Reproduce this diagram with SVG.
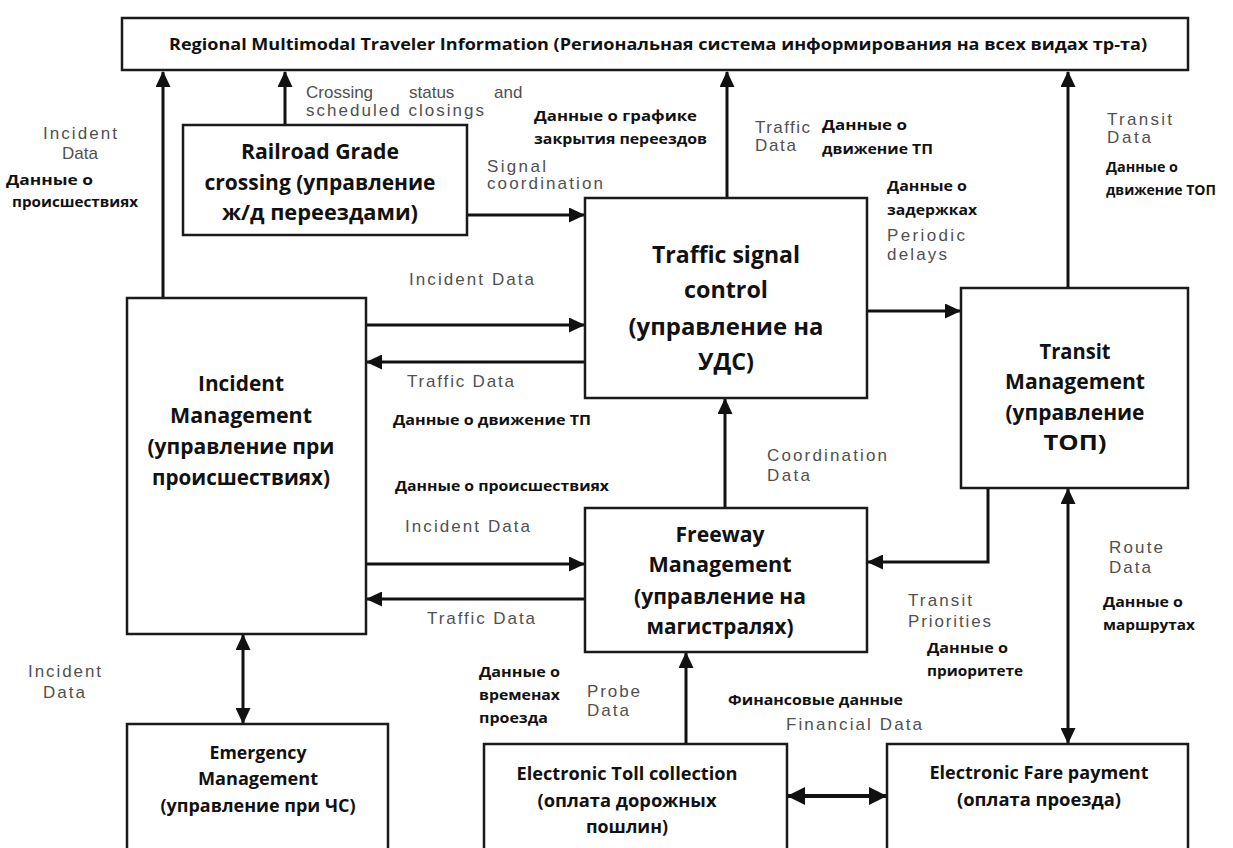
<svg xmlns="http://www.w3.org/2000/svg" width="1233" height="848" viewBox="0 0 1233 848">
<defs>
<marker id="ah" markerUnits="userSpaceOnUse" markerWidth="16" markerHeight="15" refX="15" refY="7.5" orient="auto-start-reverse"><path d="M0,0 L16,7.5 L0,15 z" fill="#111"/></marker>
<marker id="ahb" markerUnits="userSpaceOnUse" markerWidth="18" markerHeight="18" refX="17" refY="9" orient="auto-start-reverse"><path d="M0,0 L18,9 L0,18 z" fill="#111"/></marker>
<style>
.box{fill:#fff;stroke:#1a1a1a;stroke-width:2.5}
.n{font-family:"Open Sans","Noto Sans","Liberation Sans",sans-serif;font-weight:bold;fill:#111;text-anchor:middle}
.b{font-family:"Open Sans","Noto Sans","Liberation Sans",sans-serif;font-weight:bold;fill:#111;font-size:14px}
.g{font-family:"Liberation Sans",Arial,sans-serif;fill:#505050;font-size:17px}
.c{fill:none;stroke:#111;stroke-width:3}
</style>
</defs>
<rect width="1233" height="848" fill="#fff"/>

<g id="connectors">
<path class="c" d="M163,298 V72" marker-end="url(#ah)"/>
<path class="c" d="M285,125 V72" marker-end="url(#ah)"/>
<path class="c" d="M727,198 V72" marker-end="url(#ah)"/>
<path class="c" d="M1068,288 V72" marker-end="url(#ah)"/>
<path class="c" d="M467,215 H584" marker-end="url(#ah)"/>
<path class="c" d="M366,325 H584" marker-end="url(#ah)"/>
<path class="c" d="M585,362 H367" marker-end="url(#ah)"/>
<path class="c" d="M867,311 H960" marker-end="url(#ah)"/>
<path class="c" d="M366,564 H584" marker-end="url(#ah)"/>
<path class="c" d="M585,599 H367" marker-end="url(#ah)"/>
<path class="c" d="M725,508 V399" marker-end="url(#ah)"/>
<path class="c" d="M988,488 V562 H868" marker-end="url(#ah)"/>
<path class="c" d="M1068,489 V743" marker-start="url(#ah)" marker-end="url(#ah)"/>
<path class="c" d="M243,635 V723" marker-start="url(#ah)" marker-end="url(#ah)"/>
<path class="c" d="M686,744 V653" marker-end="url(#ah)"/>
<path class="c" d="M788,796 H886" style="stroke-width:4" marker-start="url(#ahb)" marker-end="url(#ahb)"/>
</g>

<g id="n-regional">
<rect class="box" x="122" y="18" width="1066" height="52"/>
<text class="n" x="658" y="50" font-size="16" textLength="978" lengthAdjust="spacingAndGlyphs">Regional Multimodal Traveler Information (Региональная система информирования на всех видах тр-та)</text>
</g>

<g id="n-railroad">
<rect class="box" x="183" y="125" width="284" height="110"/>
<text class="n" x="320" y="159" font-size="21" textLength="158" lengthAdjust="spacingAndGlyphs">Railroad Grade</text>
<text class="n" x="320" y="190" font-size="21" textLength="231" lengthAdjust="spacingAndGlyphs">crossing (управление</text>
<text class="n" x="320" y="220" font-size="21" textLength="196" lengthAdjust="spacingAndGlyphs">ж/д переездами)</text>
</g>

<g id="n-tsc">
<rect class="box" x="585" y="198" width="282" height="200"/>
<text class="n" x="726" y="263" font-size="24" textLength="148" lengthAdjust="spacingAndGlyphs">Traffic signal</text>
<text class="n" x="726" y="298" font-size="24" textLength="84" lengthAdjust="spacingAndGlyphs">control</text>
<text class="n" x="726" y="335" font-size="24" textLength="195" lengthAdjust="spacingAndGlyphs">(управление на</text>
<text class="n" x="726" y="370" font-size="24" textLength="56" lengthAdjust="spacingAndGlyphs">УДС)</text>
</g>

<g id="n-incident">
<rect class="box" x="127" y="298" width="239" height="336"/>
<text class="n" x="241" y="391" font-size="21" textLength="86" lengthAdjust="spacingAndGlyphs">Incident</text>
<text class="n" x="241" y="423" font-size="21" textLength="142" lengthAdjust="spacingAndGlyphs">Management</text>
<text class="n" x="241" y="454" font-size="21" textLength="187" lengthAdjust="spacingAndGlyphs">(управление при</text>
<text class="n" x="241" y="485" font-size="21" textLength="178" lengthAdjust="spacingAndGlyphs">происшествиях)</text>
</g>

<g id="n-transit">
<rect class="box" x="961" y="288" width="227" height="200"/>
<text class="n" x="1075" y="359" font-size="21" textLength="71" lengthAdjust="spacingAndGlyphs">Transit</text>
<text class="n" x="1075" y="389" font-size="21" textLength="140" lengthAdjust="spacingAndGlyphs">Management</text>
<text class="n" x="1075" y="420" font-size="21" textLength="139" lengthAdjust="spacingAndGlyphs">(управление</text>
<text class="n" x="1075" y="450" font-size="21" textLength="63" lengthAdjust="spacingAndGlyphs">ТОП)</text>
</g>

<g id="n-freeway">
<rect class="box" x="585" y="508" width="282" height="144"/>
<text class="n" x="720" y="542" font-size="21" textLength="89" lengthAdjust="spacingAndGlyphs">Freeway</text>
<text class="n" x="720" y="572" font-size="21" textLength="143" lengthAdjust="spacingAndGlyphs">Management</text>
<text class="n" x="720" y="604" font-size="21" textLength="172" lengthAdjust="spacingAndGlyphs">(управление на</text>
<text class="n" x="720" y="634" font-size="21" textLength="147" lengthAdjust="spacingAndGlyphs">магистралях)</text>
</g>

<g id="n-emergency">
<rect class="box" x="127" y="724" width="261" height="140"/>
<text class="n" x="258" y="759" font-size="18" textLength="97" lengthAdjust="spacingAndGlyphs">Emergency</text>
<text class="n" x="258" y="785" font-size="18" textLength="120" lengthAdjust="spacingAndGlyphs">Management</text>
<text class="n" x="258" y="812" font-size="18" textLength="195" lengthAdjust="spacingAndGlyphs">(управление при ЧС)</text>
</g>

<g id="n-toll">
<rect class="box" x="484" y="744" width="303" height="120"/>
<text class="n" x="627" y="780" font-size="18" textLength="221" lengthAdjust="spacingAndGlyphs">Electronic Toll collection</text>
<text class="n" x="627" y="807" font-size="18" textLength="179" lengthAdjust="spacingAndGlyphs">(оплата дорожных</text>
<text class="n" x="627" y="833" font-size="18" textLength="82" lengthAdjust="spacingAndGlyphs">пошлин)</text>
</g>

<g id="n-fare">
<rect class="box" x="887" y="744" width="301" height="120"/>
<text class="n" x="1039" y="779" font-size="18" textLength="219" lengthAdjust="spacingAndGlyphs">Electronic Fare payment</text>
<text class="n" x="1039" y="806" font-size="18" textLength="164" lengthAdjust="spacingAndGlyphs">(оплата проезда)</text>
</g>

<g id="labels">
<text class="g" x="43" y="139" textLength="74" lengthAdjust="spacing">Incident</text>
<text class="g" x="62" y="159" textLength="36" lengthAdjust="spacing">Data</text>
<text class="b" x="6" y="185" textLength="87" lengthAdjust="spacingAndGlyphs">Данные о</text>
<text class="b" x="12" y="207" textLength="126" lengthAdjust="spacingAndGlyphs">происшествиях</text>

<text class="g" y="98"><tspan x="306">Crossing</tspan><tspan x="409">status</tspan><tspan x="494">and</tspan></text>
<text class="g" x="306" y="116" textLength="178" lengthAdjust="spacing">scheduled closings</text>

<text class="b" x="534" y="121" textLength="163" lengthAdjust="spacingAndGlyphs">Данные о графике</text>
<text class="b" x="534" y="144" textLength="173" lengthAdjust="spacingAndGlyphs">закрытия переездов</text>

<text class="g" x="487" y="172" textLength="59" lengthAdjust="spacing">Signal</text>
<text class="g" x="487" y="189" textLength="116" lengthAdjust="spacing">coordination</text>

<text class="g" x="755" y="133" textLength="55" lengthAdjust="spacing">Traffic</text>
<text class="g" x="755" y="151" textLength="41" lengthAdjust="spacing">Data</text>
<text class="b" x="822" y="130" textLength="85" lengthAdjust="spacingAndGlyphs">Данные о</text>
<text class="b" x="822" y="154" textLength="111" lengthAdjust="spacingAndGlyphs">движение ТП</text>

<text class="g" x="1107" y="125" textLength="65" lengthAdjust="spacing">Transit</text>
<text class="g" x="1107" y="143" textLength="44" lengthAdjust="spacing">Data</text>
<text class="b" x="1106" y="172" textLength="72" lengthAdjust="spacingAndGlyphs">Данные о</text>
<text class="b" x="1106" y="195" textLength="110" lengthAdjust="spacingAndGlyphs">движение ТОП</text>

<text class="b" x="887" y="191" textLength="80" lengthAdjust="spacingAndGlyphs">Данные о</text>
<text class="b" x="887" y="215" textLength="90" lengthAdjust="spacingAndGlyphs">задержках</text>
<text class="g" x="887" y="241" textLength="78" lengthAdjust="spacing">Periodic</text>
<text class="g" x="887" y="260" textLength="60" lengthAdjust="spacing">delays</text>

<text class="g" x="409" y="285" textLength="125" lengthAdjust="spacing">Incident Data</text>
<text class="g" x="407" y="387" textLength="107" lengthAdjust="spacing">Traffic Data</text>
<text class="b" x="393" y="425" textLength="198" lengthAdjust="spacingAndGlyphs">Данные о движение ТП</text>
<text class="b" x="395" y="491" textLength="214" lengthAdjust="spacingAndGlyphs">Данные о происшествиях</text>
<text class="g" x="405" y="532" textLength="125" lengthAdjust="spacing">Incident Data</text>
<text class="g" x="427" y="624" textLength="108" lengthAdjust="spacing">Traffic Data</text>

<text class="g" x="767" y="461" textLength="120" lengthAdjust="spacing">Coordination</text>
<text class="g" x="767" y="481" textLength="43" lengthAdjust="spacing">Data</text>

<text class="g" x="1109" y="553" textLength="54" lengthAdjust="spacing">Route</text>
<text class="g" x="1109" y="573" textLength="42" lengthAdjust="spacing">Data</text>
<text class="b" x="1103" y="607" textLength="80" lengthAdjust="spacingAndGlyphs">Данные о</text>
<text class="b" x="1103" y="630" textLength="92" lengthAdjust="spacingAndGlyphs">маршрутах</text>

<text class="g" x="908" y="606" textLength="64" lengthAdjust="spacing">Transit</text>
<text class="g" x="908" y="627" textLength="83" lengthAdjust="spacing">Priorities</text>
<text class="b" x="927" y="653" textLength="81" lengthAdjust="spacingAndGlyphs">Данные о</text>
<text class="b" x="927" y="676" textLength="96" lengthAdjust="spacingAndGlyphs">приоритете</text>

<text class="g" x="28" y="677" textLength="73" lengthAdjust="spacing">Incident</text>
<text class="g" x="43" y="698" textLength="42" lengthAdjust="spacing">Data</text>

<text class="b" x="479" y="677" textLength="81" lengthAdjust="spacingAndGlyphs">Данные о</text>
<text class="b" x="479" y="700" textLength="81" lengthAdjust="spacingAndGlyphs">временах</text>
<text class="b" x="479" y="723" textLength="69" lengthAdjust="spacingAndGlyphs">проезда</text>
<text class="g" x="587" y="697" textLength="53" lengthAdjust="spacing">Probe</text>
<text class="g" x="587" y="716" textLength="42" lengthAdjust="spacing">Data</text>

<text class="b" x="728" y="705" textLength="175" lengthAdjust="spacingAndGlyphs">Финансовые данные</text>
<text class="g" x="786" y="730" textLength="136" lengthAdjust="spacing">Financial Data</text>
</g>
</svg>
